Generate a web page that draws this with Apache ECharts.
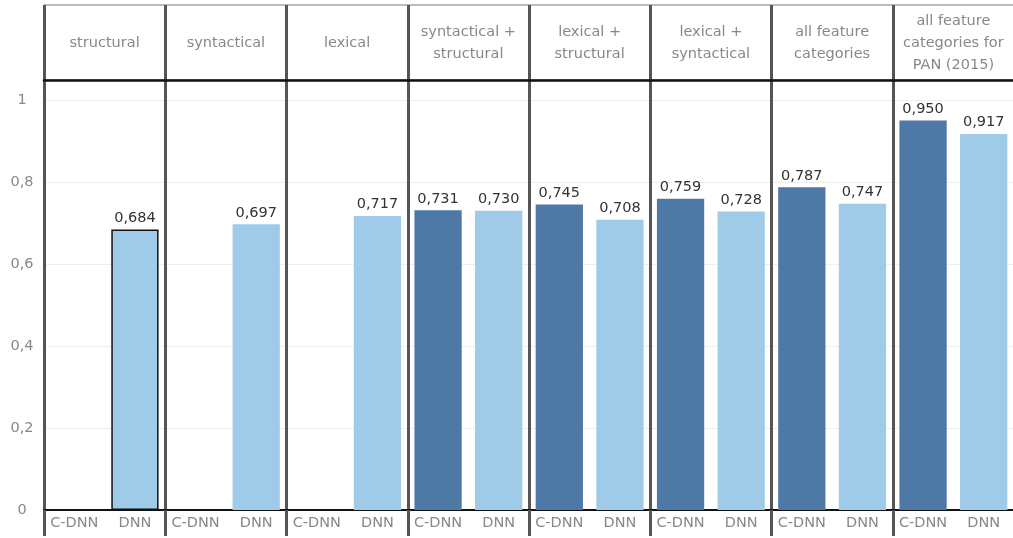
<!DOCTYPE html>
<html>
<head>
<meta charset="utf-8">
<script src="https://cdn.jsdelivr.net/npm/echarts@6/dist/echarts.min.js"></script>
<style>html,body{margin:0;padding:0;background:#fff}#c{width:1013px;height:538px}</style>
</head>
<body>
<div id="c"></div>
<script>
var panels = ['structural', 'syntactical', 'lexical', 'syntactical +\nstructural', 'lexical +\nstructural', 'lexical +\nsyntactical', 'all feature\ncategories', 'all feature\ncategories for\nPAN (2015)'];
var methods = ['C-DNN', 'DNN'];
var cdnnValues = [null, null, null, 0.731, 0.745, 0.759, 0.787, 0.950];
var dnnValues = [0.684, 0.697, 0.717, 0.730, 0.708, 0.728, 0.747, 0.917];
var yTicks = [0, 0.2, 0.4, 0.6, 0.8, 1];

var cats = [], data = [];
for (var i = 0; i < panels.length; i++) {
  cats.push(methods[0]); cats.push(methods[1]);
  data.push({ value: cdnnValues[i], itemStyle: { color: '#4e79a7' } });
  var d = { value: dnnValues[i], itemStyle: { color: '#a0cbe8' } };
  if (i === 0) { d.itemStyle.borderColor = '#111'; d.itemStyle.borderWidth = 1.5; }
  data.push(d);
}
function fmt(v) { return v.toFixed(3).replace('.', ','); }
var FONT = '"DejaVu Sans", "Open Sans", sans-serif';
var chart = echarts.init(document.getElementById('c'));
chart.setOption({
  animation: false,
  textStyle: { fontFamily: FONT },
  grid: [
    { left: 44, width: 970, top: 80, bottom: 28, outerBoundsMode: 'none', containLabel: false },
    { left: 44, width: 970, top: 5, height: 75, show: true, borderColor: '#777', borderWidth: 1, outerBoundsMode: 'none', containLabel: false }
  ],
  xAxis: [
    { gridIndex: 0, type: 'category', data: cats, position: 'bottom',
      axisLine: { lineStyle: { color: '#111', width: 2 } },
      axisTick: { show: false },
      axisLabel: { interval: 0, color: '#888', fontSize: 14.5, margin: 6, fontFamily: FONT },
      splitLine: { show: false } },
    { gridIndex: 0, type: 'category', data: panels, position: 'top',
      axisLine: { show: false }, axisTick: { show: false }, axisLabel: { show: false },
      splitLine: { show: true, lineStyle: { color: '#555', width: 3 } } },
    { gridIndex: 1, type: 'category', data: panels, position: 'bottom',
      axisLine: { lineStyle: { color: '#111', width: 2.5 } }, axisTick: { show: false },
      axisLabel: { interval: 0, inside: true, margin: 37, verticalAlign: 'middle', color: '#888', fontSize: 14.5, lineHeight: 22, fontFamily: FONT },
      splitLine: { show: true, lineStyle: { color: '#555', width: 3 } } },
    { gridIndex: 0, type: 'category', data: panels, position: 'bottom',
      axisLine: { show: false }, axisLabel: { show: false }, splitLine: { show: false },
      axisTick: { show: true, interval: 0, length: 26, lineStyle: { color: '#555', width: 3 } } }
  ],
  yAxis: [
    { gridIndex: 0, type: 'value', min: 0, max: 1.0488, interval: 0.2,
      axisLine: { show: false }, axisTick: { show: false },
      axisLabel: { color: '#888', fontSize: 14.5, margin: 22, align: 'center', fontFamily: FONT,
        formatter: function (v) { if (v > 1.001) return ''; return v === 0 || v === 1 ? String(v) : String(+v.toFixed(1)).replace('.', ','); } },
      splitLine: { lineStyle: { color: '#eeeeee', width: 1 } } },
    { gridIndex: 1, type: 'value', min: 0, max: 1, show: false, splitLine: { show: false } }
  ],
  series: [
    { type: 'bar', xAxisIndex: 0, yAxisIndex: 0, data: data, barWidth: '78%',
      label: { show: true, position: 'top', distance: 4, color: '#333', fontSize: 14.5, fontFamily: FONT,
        formatter: function (p) { return p.value == null ? '' : fmt(p.value); } } }
  ]
});
</script>
</body>
</html>
